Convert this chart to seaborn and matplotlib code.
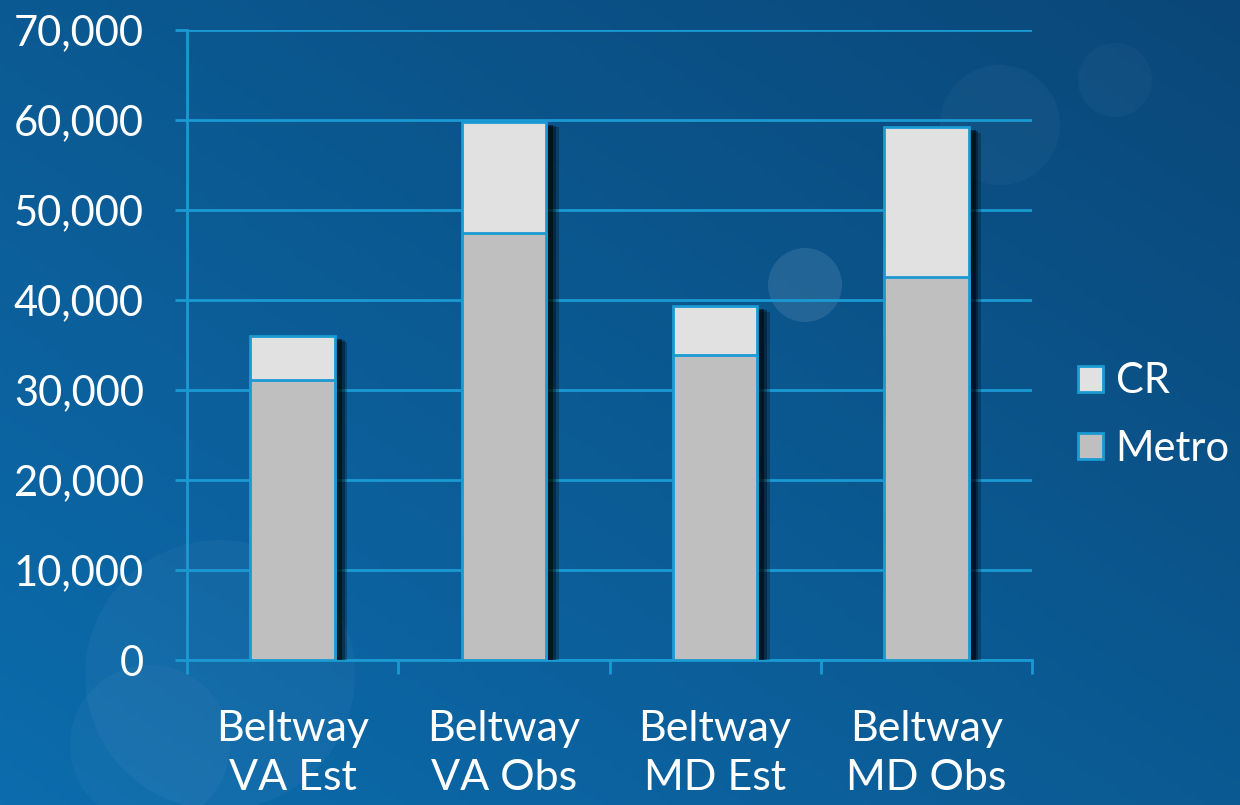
import numpy as np
import matplotlib
matplotlib.use("Agg")
import matplotlib.pyplot as plt
import matplotlib.patheffects as pe
from matplotlib.patches import Patch, Ellipse
import seaborn as sns
import pandas as pd

categories = ["Beltway\nVA Est", "Beltway\nVA Obs", "Beltway\nMD Est", "Beltway\nMD Obs"]
metro = [31100, 47400, 33900, 42500]
cr = [4900, 12400, 5400, 16700]
yticks = [0, 10000, 20000, 30000, 40000, 50000, 60000, 70000]

totals = [m + c for m, c in zip(metro, cr)]
df = pd.DataFrame({"cat": categories, "metro": metro, "total": totals})

sns.set_theme(style="white")
plt.rcParams["font.family"] = ["Lato", "DejaVu Sans"]

LINE = "#1a9ad2"
CR_C = "#e1e1e1"
METRO_C = "#bfbfbf"

W, H = 1240, 805
fig = plt.figure(figsize=(W / 100, H / 100), dpi=100)

# background gradient
bg = fig.add_axes([0, 0, 1, 1], zorder=-10)
h, w = 161, 248
yy, xx = np.mgrid[0:h, 0:w]
t = (xx / w) * 0.6 + (yy / h) * -0.6  # darker toward top-right
t = (t - t.min()) / (t.max() - t.min())
c_light = np.array([0x0c, 0x6c, 0xad]) / 255
c_dark = np.array([0x0a, 0x47, 0x78]) / 255
img = c_light[None, None, :] * (1 - t[..., None]) + c_dark[None, None, :] * t[..., None]
bg.imshow(img, aspect="auto", extent=[0, W, 0, H], origin="upper")
for (cx, cy, r, a) in [(220, 130, 135, 0.035), (150, 60, 80, 0.03), (805, 520, 37, 0.10),
                       (1000, 680, 60, 0.03), (1115, 725, 37, 0.03)]:
    bg.add_patch(Ellipse((cx, cy), 2 * r, 2 * r, color="white", alpha=a, lw=0))
bg.set_xlim(0, W); bg.set_ylim(0, H)
bg.axis("off")

ax = fig.add_axes([187 / W, 1 - 660 / H, (1032 - 187) / W, 630 / H])
ax.set_facecolor("none")

shadow = [pe.SimplePatchShadow(offset=(9, -4), shadow_rgbFace="black", alpha=0.25),
          pe.SimplePatchShadow(offset=(7, -3), shadow_rgbFace="black", alpha=0.35),
          pe.SimplePatchShadow(offset=(5, -2), shadow_rgbFace="black", alpha=0.5),
          pe.Normal()]
sns.barplot(data=df, x="cat", y="total", color=CR_C, width=0.4, ax=ax, saturation=1,
            edgecolor=LINE, linewidth=2, zorder=3)
for p in ax.patches:
    p.set_path_effects(shadow)
sns.barplot(data=df, x="cat", y="metro", color=METRO_C, width=0.4, ax=ax, saturation=1,
            edgecolor=LINE, linewidth=2, zorder=4)

ax.set_ylim(0, 70000)
ax.set_xlim(-0.5, 3.5)
ax.set_yticks(yticks)
ax.set_yticklabels([f"{v:,}" for v in yticks])
ax.yaxis.grid(True, color=LINE, linewidth=2)
ax.set_axisbelow(True)
for s in ["top", "right"]:
    ax.spines[s].set_visible(False)
for s in ["left", "bottom"]:
    ax.spines[s].set_color(LINE)
    ax.spines[s].set_linewidth(2)
ax.set_xlabel("")
ax.set_ylabel("")
ax.tick_params(axis="y", colors="white", labelsize=30, length=9, width=2, color=LINE, pad=22, left=True)
ax.tick_params(axis="x", colors="white", labelsize=31, length=0, pad=36)
ax.set_xticks(np.arange(-0.5, 4, 1), minor=True)
ax.tick_params(axis="x", which="minor", length=10, width=2, color=LINE, bottom=True)
for lbl in ax.get_xticklabels():
    lbl.set_linespacing(1.35)

handles = [Patch(facecolor=CR_C, edgecolor=LINE, linewidth=2, label="CR"),
           Patch(facecolor=METRO_C, edgecolor=LINE, linewidth=2, label="Metro")]
leg = fig.legend(handles=handles, loc="center left", bbox_to_anchor=(1078 / W, 1 - 415 / H),
                 frameon=False, fontsize=30, labelcolor="white", handlelength=0.6, handleheight=0.6,
                 handletextpad=0.3, labelspacing=0.7, borderaxespad=0, borderpad=0)

fig.savefig("out.png", dpi=100)
